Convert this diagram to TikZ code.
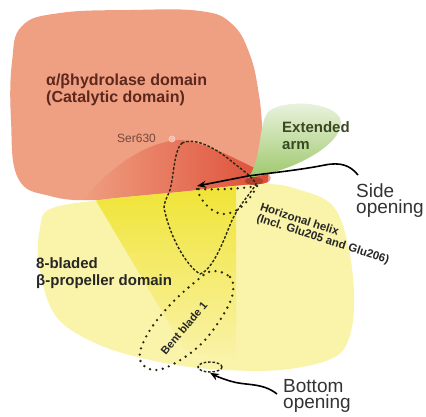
\documentclass[tikz,border=0pt]{standalone}
\usepackage{fontspec}
\setmainfont{Liberation Sans}
\usetikzlibrary{arrows.meta,shapes.geometric,fadings}
\definecolor{salmon}{RGB}{240,160,130}
\definecolor{redcore}{RGB}{222,78,56}
\definecolor{paleyel}{RGB}{250,243,170}
\definecolor{brightyel}{RGB}{240,228,52}
\definecolor{armgreen}{RGB}{158,200,108}
\definecolor{textbrown}{RGB}{92,40,30}
\definecolor{armtext}{RGB}{58,72,34}
\definecolor{loopcol}{RGB}{40,40,16}
\tikzfading[name=wedgefade,top color=transparent!0,bottom color=transparent!100]
\tikzfading[name=corefade,left color=transparent!100,right color=transparent!0]

\begin{document}
\begin{tikzpicture}[x=1pt,y=-1pt,>={Stealth[length=9pt,width=7pt]},
  lbl/.style={inner sep=0pt,align=left,anchor=north west},
  domlbl/.style={lbl,font=\fontsize{15}{17}\selectfont\bfseries,text=textbrown},
  openlbl/.style={lbl,font=\fontsize{19}{16}\selectfont,text=black!80},
  loopdash/.style={draw=loopcol,line width=1.4pt,dash pattern=on 2.6pt off 1.8pt},
  loopdot/.style={draw=loopcol,line width=2.6pt,line cap=round,dash pattern=on 0pt off 6.5pt},
  pointer/.style={->,line width=1.6pt,black}]
\useasboundingbox (0,0) rectangle (426,417);
\def\salmonblob{plot[smooth cycle,tension=0.7] coordinates {(12,62) (22,26) (60,13)
  (130,10) (200,11) (232,24) (250,55) (259,95) (263,135) (267,168) (262,184)
  (180,193) (100,200) (50,196) (18,178) (11,120)}}
\def\yellowblob{plot[smooth cycle,tension=0.6] coordinates {(50,209) (100,200)
  (180,192) (262,184) (300,190) (333,206) (348,245) (354,295) (350,335) (333,358)
  (280,370) (210,369) (150,360) (95,343) (55,315) (39,265) (40,228)}}
% ---- hydrolase domain ----
\fill[salmon] \salmonblob;
\begin{scope}
  \clip \salmonblob;
  \fill[redcore,path fading=corefade]
    (80,204) .. controls (110,165) and (150,140) .. (182,140)
    .. controls (215,145) and (245,165) .. (268,174) -- (268,196) -- cycle;
\end{scope}
% ---- propeller domain ----
\fill[paleyel] \yellowblob;
\begin{scope}
  \clip \yellowblob;
  \fill[brightyel,path fading=wedgefade]
    (95,199) -- (236,183) -- (236,360) -- (185,350) -- cycle;
\end{scope}
% ---- extended arm ----
\shade[top color=armgreen!20!white,bottom color=armgreen]
  (248,178) .. controls (262,160) and (258,125) .. (268,112)
  .. controls (280,100) and (330,100) .. (340,118)
  .. controls (348,140) and (300,170) .. (248,178) -- cycle;
\fill[redcore!75!black,opacity=0.8] (254,181) ellipse (9 and 4);
% ---- loops ----
\draw[loopdash] (182,143) .. controls (195,137) and (215,148) .. (230,160)
  .. controls (242,170) and (252,176) .. (256,184)
  .. controls (250,195) and (238,205) .. (230,225)
  .. controls (222,245) and (212,270) .. (200,274)
  .. controls (185,265) and (170,235) .. (165,212)
  .. controls (162,205) and (167,198) .. (170,190)
  .. controls (174,175) and (174,150) .. (182,143);
\draw[loopdot] (197,189) .. controls (200,200) and (210,212) .. (222,214)
  .. controls (238,215) and (250,200) .. (257,186)
  .. controls (240,189) and (215,190) .. (197,189);
\draw[loopdot] plot[smooth cycle,tension=0.6] coordinates {(212,271) (230,277)
  (233,292) (225,312) (205,340) (182,359) (158,370) (143,365) (140,352) (150,330)
  (170,305) (195,282)};
\node[ellipse,loopdash,minimum width=24pt,minimum height=10pt,inner sep=0pt] (hole) at (210,367) {};
% ---- labels ----
\node[domlbl,font=\fontsize{16}{17}\selectfont\bfseries] (hydro) at (46,74) {α/βhydrolase domain\\(Catalytic domain)};
\node[lbl,font=\fontsize{12}{14}\selectfont,text=textbrown!85] (ser) at (117,134) {Ser630};
\node[circle,inner sep=0pt,minimum size=6pt,draw=white!55!salmon,fill=salmon!70!white,
  line width=0.6pt] (sermark) at (172,139) {};
\node[domlbl,text=armtext] (arm) at (282,121) {Extended\\arm};
\node[domlbl,text=black!85] (prop) at (36,257) {8-bladed\\β-propeller domain};
\node[lbl,font=\fontsize{11.5}{11.5}\selectfont\bfseries,text=black!85,rotate=-18] (helix)
  at (262,202) {Horizonal helix\\(Incl. Glu205 and Glu206)};
\node[font=\fontsize{11}{12}\selectfont\bfseries,text=black!85,inner sep=0pt,rotate=50]
  (bent) at (184,328) {Bent blade 1};
\node[openlbl] (side) at (356,184) {Side\\opening};
\node[openlbl] (bottom) at (283,379) {Bottom\\opening};
% ---- openings ----
\coordinate (sidetip) at (197,186);
\draw[pointer] ([shift={(2,-9)}]side.north west) .. controls (350,165) and (340,162) .. (325,165)
  .. controls (300,170) and (270,173) .. (248,176) -- (sidetip);
\draw[pointer] ([shift={(-6,15)}]bottom.north west) .. controls (262,382) and (245,386) .. (230,381)
  .. controls (220,378) and (214,375) .. (hole.south);
\end{tikzpicture}
\end{document}
